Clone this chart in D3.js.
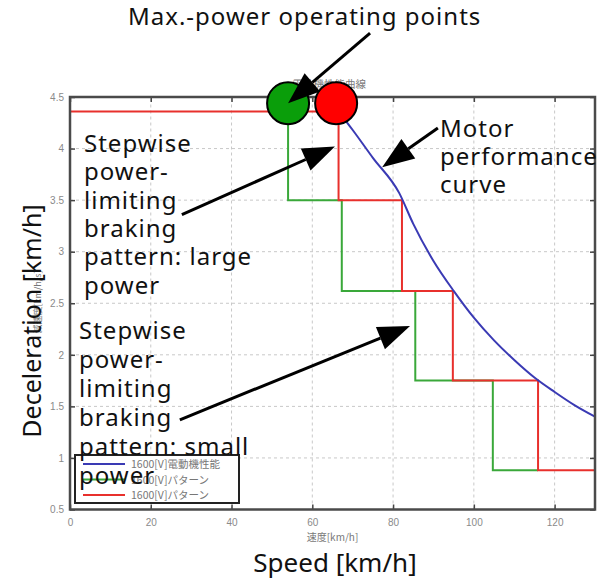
<!DOCTYPE html>
<html>
<head>
<meta charset="utf-8">
<script src="https://cdn.jsdelivr.net/npm/d3@7"></script>
<style>
  body { margin: 0; background: #fff; }
  .tick text { fill: #8a8a8a; font-family: "Liberation Sans", Arial, sans-serif; font-size: 10px; }
  .note { font-family: "Noto Sans", sans-serif; fill: #111; }
  .jp { font-family: "Noto Sans CJK JP", sans-serif; fill: #777; }
</style>
</head>
<body>
<div id="chart"></div>
<script>
// axis ticks
const speedTicks = [0, 20, 40, 60, 80, 100, 120];
const decelTicks = [0.5, 1, 1.5, 2, 2.5, 3, 3.5, 4, 4.5];

// stepwise braking pattern, small power (green)
const smallSpeed = [54, 54, 67.3, 85.5, 104.7, 115.9];
const smallDecel = [4.36, 3.5, 2.62, 1.75, 0.88, 0.88];

// stepwise braking pattern, large power (red)
const largeSpeed = [0, 66.5, 82.2, 94.8, 115.9, 130];
const largeDecel = [4.36, 3.5, 2.62, 1.75, 0.88, 0.88];

// motor performance curve (blue)
const motorSpeed = [66.5, 70, 75, 81.5, 85, 90, 95, 100, 105, 110, 115, 120, 125, 130];
const motorDecel = [4.36, 4.18, 3.91, 3.57, 3.27, 2.91, 2.62, 2.36, 2.14, 1.95, 1.78, 1.64, 1.51, 1.40];

// max-power operating points
const opSpeed = [54, 65.9];
const opDecel = [4.44, 4.44];
const opColor = ["#0a9e0a", "#ff0000"];

const legendLabels = ["1600[V]電動機性能", "1600[V]パターン", "1600[V]パターン"];
const seriesColors = ["#3a3ab4", "#3aa83a", "#e8302c"];

const width = 600, height = 578;
const svg = d3.select("#chart").append("svg")
    .attr("width", width)
    .attr("height", height);

svg.append("rect").attr("width", width).attr("height", height).attr("fill", "#fff");

let x = d3.scaleLinear().domain([0, 130]).range([70, 595]);
let y = d3.scaleLinear().domain([0.5, 4.5]).range([509.5, 97]);

/** grid */
let grid = svg.append("g").attr("class", "grid");
grid.selectAll(".vgrid").data(speedTicks.slice(1))
    .enter().append("line")
    .attr("x1", d => x(d)).attr("x2", d => x(d))
    .attr("y1", y(0.5)).attr("y2", y(4.5))
    .attr("stroke", "#c8c8c8").attr("stroke-dasharray", "3,3");
grid.selectAll(".hgrid").data(decelTicks.slice(1, -1))
    .enter().append("line")
    .attr("x1", x(0)).attr("x2", x(130))
    .attr("y1", d => y(d)).attr("y2", d => y(d))
    .attr("stroke", "#c8c8c8").attr("stroke-dasharray", "3,3");

/** axes, matlab style inward ticks */
let xAx = svg.append("g").attr("transform", "translate(0," + y(0.5) + ")")
    .call(d3.axisBottom(x).tickValues(speedTicks).tickSize(-5).tickPadding(9).tickFormat(d3.format("d")));
let xTop = svg.append("g").attr("transform", "translate(0," + y(4.5) + ")")
    .call(d3.axisTop(x).tickValues(speedTicks).tickSize(-5).tickFormat(""));
let yAx = svg.append("g").attr("transform", "translate(" + x(0) + ",0)")
    .call(d3.axisLeft(y).tickValues(decelTicks).tickSize(-5).tickPadding(6).tickFormat(d => d));
let yRight = svg.append("g").attr("transform", "translate(" + x(130) + ",0)")
    .call(d3.axisRight(y).tickValues(decelTicks).tickSize(-5).tickFormat(""));
[xAx, xTop, yAx, yRight].forEach(g => {
    g.select(".domain").remove();
    g.selectAll(".tick line").attr("stroke", "#444").attr("stroke-width", 1.5);
});

/** series */
let step = d3.line().curve(d3.curveStepAfter).x(d => x(d[0])).y(d => y(d[1]));
let smooth = d3.line().curve(d3.curveMonotoneX).x(d => x(d[0])).y(d => y(d[1]));

svg.append("path").datum(d3.zip(smallSpeed, smallDecel))
    .attr("d", step).attr("fill", "none")
    .attr("stroke", seriesColors[1]).attr("stroke-width", 2);
svg.append("path").datum(d3.zip(largeSpeed, largeDecel))
    .attr("d", step).attr("fill", "none")
    .attr("stroke", seriesColors[2]).attr("stroke-width", 2);
svg.append("path").datum(d3.zip(motorSpeed, motorDecel))
    .attr("d", smooth).attr("fill", "none")
    .attr("stroke", seriesColors[0]).attr("stroke-width", 2);

/** frame */
svg.append("rect")
    .attr("x", x(0)).attr("y", y(4.5))
    .attr("width", x(130) - x(0)).attr("height", y(0.5) - y(4.5))
    .attr("fill", "none").attr("stroke", "#4a4a4a").attr("stroke-width", 2.5);

/** original japanese labels */
svg.append("text").attr("class", "jp")
    .attr("x", x(65)).attr("y", 541)
    .attr("text-anchor", "middle").style("font-size", "10px")
    .text("速度[km/h]");
svg.append("text").attr("class", "jp")
    .attr("text-anchor", "middle").style("font-size", "9px")
    .attr("transform", "translate(41,302) rotate(-90)")
    .text("減速度[km/h/s]");
svg.append("text").attr("class", "jp")
    .attr("x", 366).attr("y", 88)
    .attr("text-anchor", "end").style("font-size", "10.5px")
    .text("電動機性能曲線");

/** legend */
let legend = svg.append("g");
legend.append("rect")
    .attr("x", 75).attr("y", 455).attr("width", 164).attr("height", 48)
    .attr("fill", "#fff").attr("stroke", "#222").attr("stroke-width", 2);
legendLabels.forEach((t, i) => {
    let ly = 464 + i * 15.5;
    legend.append("line")
        .attr("x1", 83).attr("x2", 125).attr("y1", ly).attr("y2", ly)
        .attr("stroke", seriesColors[i]).attr("stroke-width", 2);
    legend.append("text").attr("class", "jp")
        .attr("x", 131).attr("y", ly + 4)
        .style("font-size", "10.5px")
        .text(t);
});

/** operating point circles */
svg.selectAll(".op").data(d3.zip(opSpeed, opDecel, opColor))
    .enter().append("circle")
    .attr("cx", d => x(d[0])).attr("cy", d => y(d[1]))
    .attr("r", 21)
    .attr("fill", d => d[2]).attr("stroke", "#000").attr("stroke-width", 2);

/** annotation text */
function lines(x0, y0, dy, size, arr) {
    let t = svg.append("text").attr("class", "note")
        .style("font-size", size + "px").style("letter-spacing", "1px");
    arr.forEach((s, i) => {
        t.append("tspan").attr("x", x0).attr("y", y0 + i * dy).text(s);
    });
}
lines(128, 25, 0, 24, ["Max.-power operating points"]);
lines(84, 152, 28.3, 24, ["Stepwise", "power-", "limiting", "braking", "pattern: large", "power"]);
lines(79, 339, 29, 24, ["Stepwise", "power-", "limiting", "braking", "pattern: small", "power"]);
lines(440, 137, 28, 24, ["Motor", "performance", "curve"]);
svg.append("text").attr("class", "note").style("font-size", "26px")
    .attr("x", 335).attr("y", 572).attr("text-anchor", "middle")
    .text("Speed [km/h]");
svg.append("text").attr("class", "note").style("font-size", "25px")
    .attr("text-anchor", "middle")
    .attr("transform", "translate(41,321) rotate(-90)")
    .text("Deceleration [km/h]");

/** arrows: [tail speed, tail decel, tip speed, tip decel] */
const arrowTail = [[74.3, 5.12], [27.7, 3.36], [91.1, 4.20], [27.2, 1.37]];
const arrowTip = [[54, 4.44], [65.6, 4.02], [77.3, 3.82], [84.2, 2.28]];
d3.zip(arrowTail, arrowTip).forEach(([a, b]) => {
    let x1 = x(a[0]), y1 = y(a[1]), x2 = x(b[0]), y2 = y(b[1]);
    let ang = Math.atan2(y2 - y1, x2 - x1);
    let len = 32, hw = 12;
    let bx = x2 - len * Math.cos(ang), by = y2 - len * Math.sin(ang);
    svg.append("line")
        .attr("x1", x1).attr("y1", y1).attr("x2", bx).attr("y2", by)
        .attr("stroke", "#000").attr("stroke-width", 3);
    let px = -Math.sin(ang) * hw, py = Math.cos(ang) * hw;
    svg.append("path")
        .attr("d", "M" + x2 + "," + y2 + "L" + (bx + px) + "," + (by + py) + "L" + (bx - px) + "," + (by - py) + "Z")
        .attr("fill", "#000");
});
</script>
</body>
</html>
